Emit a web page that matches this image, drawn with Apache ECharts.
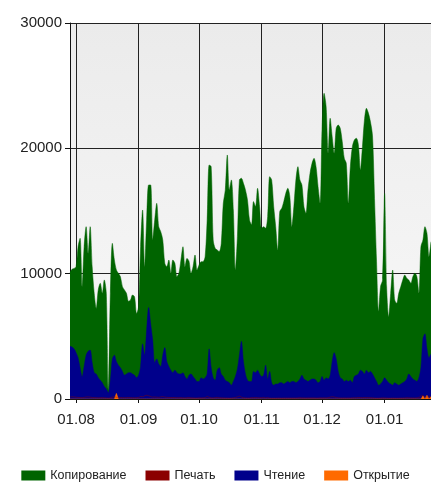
<!DOCTYPE html>
<html>
<head>
<meta charset="utf-8">
<script src="https://cdn.jsdelivr.net/npm/echarts@6/dist/echarts.min.js"></script>
<style>
html, body { margin: 0; padding: 0; background: #fff; }
#container1 { width: 431px; height: 483px; }
</style>
</head>
<body>
<div id="container1"></div>
<script>
// days from 29.07 to 24.01
var days = [];
for (var i = 0; i < 180; i++) {
    var d = new Date(2011, 6, 29 + i);
    var dd = ('0' + d.getDate()).slice(-2);
    var mm = ('0' + (d.getMonth() + 1)).slice(-2);
    days.push(dd + '.' + mm);
}

var seriesNames = ['Копирование', 'Печать', 'Чтение', 'Открытие'];
var yTicks = [0, 10000, 20000, 30000];

var copying = [
    10100, 10350, 10420, 10560, 12150, 12820, 8960, 12150, 13750, 11620,
    13750, 10560, 8430, 7230, 8700, 9230, 8430, 9500, 8430, 720,
    8430, 12420, 11090, 10290, 10030, 9760, 8960, 8700, 8430, 7800,
    7900, 8300, 8160, 6830, 7370, 12150, 15080, 10560, 14280, 17080,
    17080, 12690, 14280, 15610, 13750, 13350, 12690, 10830, 10560, 11090,
    10030, 11090, 10830, 9760, 10030, 11090, 12150, 10560, 11220, 11000,
    10030, 10560, 11490, 10290, 10690, 10960, 10960, 11360, 14280, 18670,
    18540, 12690, 12020, 11890, 11760, 12420, 15610, 16680, 19470, 16680,
    17480, 15080, 10290, 12950, 17480, 17610, 17210, 16680, 15880, 14300,
    13900, 15750, 15350, 16810, 15350, 13620, 13750, 13620, 14550, 17740,
    17480, 15350, 13750, 11890, 14950, 15210, 15750, 16410, 16810, 16140,
    13750, 15350, 17480, 18540, 17480, 17080, 15350, 14810, 16680, 18000,
    18800, 19200, 18540, 16940, 15610, 21730, 24390, 23330, 19600, 22400,
    20930, 19600, 21600, 21860, 21600, 20530, 19200, 18800, 15610, 18540,
    20130, 20670, 20800, 20270, 18270, 20130, 22260, 23190, 22790, 22100,
    21000, 16000, 11000, 7000, 9000, 9500, 16400, 8960, 6570, 8430,
    10290, 7900, 7630, 8430, 8960, 9490, 9890, 9630, 9490, 9230,
    9760, 10030, 9760, 8430, 12150, 12690, 13750, 13220, 11360, 12550
];

var printing = [
    150, 180, 160, 140, 120, 110, 100, 130, 160, 170,
    150, 120, 110, 100, 90, 100, 110, 90, 80, 60,
    100, 150, 170, 140, 130, 120, 110, 100, 110, 120,
    110, 100, 90, 100, 120, 200, 180, 250, 300, 260,
    200, 150, 160, 140, 130, 170, 190, 150, 130, 120,
    110, 120, 110, 100, 100, 110, 90, 80, 100, 110,
    90, 80, 70, 70, 90, 80, 90, 100, 200, 130,
    90, 80, 120, 130, 100, 90, 80, 70, 70, 60,
    70, 90, 120, 170, 230, 150, 100, 80, 70, 70,
    110, 100, 120, 100, 90, 100, 130, 80, 110, 70,
    60, 60, 60, 70, 70, 60, 70, 70, 70, 70,
    70, 70, 70, 80, 100, 80, 80, 70, 80, 80,
    80, 80, 70, 70, 90, 80, 90, 80, 100, 150,
    180, 160, 110, 90, 80, 70, 80, 70, 80, 70,
    90, 100, 100, 120, 110, 100, 120, 110, 110, 100,
    90, 70, 60, 60, 70, 90, 80, 70, 60, 60,
    70, 60, 60, 60, 70, 70, 80, 100, 90, 80,
    80, 70, 90, 120, 240, 260, 200, 160, 180, 170
];

var reading = [
    4200, 4150, 4000, 3700, 3300, 2500, 1800, 2600, 3500, 3800,
    3900, 2900, 2100, 2000, 1700, 1500, 1300, 1000, 800, 500,
    1500, 3200, 3500, 3000, 2700, 2500, 2200, 1900, 2000, 2100,
    2100, 2000, 1900, 1700, 1900, 2600, 4400, 3500, 5500, 7300,
    6000, 4700, 2900, 3200, 2800, 2600, 3500, 4100, 3000, 2600,
    2300, 2100, 2300, 2100, 2000, 2000, 2100, 1800, 1600, 1900,
    2000, 1800, 1600, 1400, 1400, 1700, 1600, 1700, 2000, 4000,
    2500, 1700, 1500, 2300, 2500, 2000, 1800, 1500, 1400, 1300,
    1100, 1400, 1800, 2400, 3500, 4600, 3000, 2000, 1500, 1400,
    1400, 2200, 2100, 2300, 2000, 1800, 1900, 2700, 1600, 2200,
    1300, 1100, 1200, 1200, 1300, 1300, 1200, 1300, 1400, 1300,
    1400, 1400, 1300, 1400, 1600, 1900, 1600, 1500, 1400, 1500,
    1600, 1600, 1500, 1300, 1400, 1800, 1500, 1700, 1600, 1900,
    3000, 3700, 3200, 2200, 1700, 1600, 1400, 1500, 1400, 1500,
    1300, 1800, 1900, 2000, 2300, 2200, 2000, 2300, 2100, 2200,
    2000, 1700, 1400, 1100, 1200, 1400, 1700, 1500, 1300, 1200,
    1100, 1300, 1200, 1100, 1200, 1300, 1400, 1600, 2000, 1800,
    1600, 1500, 1400, 1700, 2500, 4800, 5200, 4000, 3300, 3600
];

var opening = [
    0, 0, 0, 0, 0, 0, 0, 0, 0, 0,
    0, 0, 0, 0, 0, 0, 0, 0, 0, 0,
    0, 0, 0, 450, 0, 0, 0, 0, 0, 0,
    0, 0, 0, 0, 0, 0, 0, 0, 0, 0,
    0, 0, 0, 0, 0, 0, 0, 0, 0, 0,
    0, 0, 0, 0, 0, 0, 0, 0, 0, 0,
    0, 0, 0, 0, 0, 0, 0, 0, 0, 0,
    0, 0, 0, 0, 0, 0, 0, 0, 0, 0,
    0, 0, 0, 0, 0, 0, 0, 0, 0, 0,
    0, 0, 0, 0, 0, 0, 0, 0, 0, 0,
    0, 0, 0, 0, 0, 0, 0, 0, 0, 0,
    0, 0, 0, 0, 0, 0, 0, 0, 0, 0,
    0, 0, 0, 0, 0, 0, 0, 0, 0, 0,
    0, 0, 0, 0, 0, 0, 0, 0, 0, 0,
    0, 0, 0, 0, 0, 0, 0, 0, 0, 0,
    0, 0, 0, 0, 0, 0, 0, 0, 0, 0,
    0, 0, 0, 0, 0, 0, 0, 0, 0, 0,
    0, 0, 0, 0, 0, 250, 0, 300, 0, 200
];

var monthStart = function (idx, value) {
    return String(value).slice(0, 2) === '01';
};

var font = '"Liberation Sans", Arial, sans-serif';

var dom = document.getElementById("container1");
var myChart = echarts.init(dom);

var areaSeries = function (name, data, color, smooth) {
    return {
        name: name,
        type: 'line',
        data: data,
        smooth: smooth,
        showSymbol: false,
        symbol: 'none',
        lineStyle: { width: 0.5, color: color },
        areaStyle: { color: color, opacity: 1 },
        itemStyle: { color: color },
        animation: false
    };
};

var option = {
    animation: false,
    textStyle: { fontFamily: font },
    color: ['#006400', '#8b0000', '#00008b', '#ff6a00'],
    grid: {
        left: 70,
        right: 0,
        top: 23,
        bottom: 84,
        show: true,
        borderWidth: 0,
        backgroundColor: {
            type: 'linear', x: 0, y: 0, x2: 0, y2: 1,
            colorStops: [
                { offset: 0, color: '#ebebeb' },
                { offset: 1, color: '#f9f9f9' }
            ]
        }
    },
    legend: {
        data: seriesNames,
        top: 464,
        left: 'center',
        icon: 'rect',
        itemWidth: 24,
        itemHeight: 10,
        itemGap: 19,
        textStyle: { fontSize: 12.5, color: '#222', fontFamily: font }
    },
    xAxis: {
        type: 'category',
        data: days,
        boundaryGap: false,
        axisLine: { show: true, lineStyle: { color: '#111', width: 1 } },
        axisTick: { show: true, interval: monthStart, length: 4, lineStyle: { color: '#111' } },
        axisLabel: {
            interval: monthStart,
            fontSize: 15,
            color: '#222',
            margin: 13,
            formatter: function (v) { return v.slice(0, 2) === '01' ? v : ''; }
        },
        splitLine: { show: true, interval: monthStart, lineStyle: { color: '#222', width: 1 } }
    },
    yAxis: {
        type: 'value',
        min: yTicks[0],
        max: yTicks[yTicks.length - 1],
        interval: 10000,
        axisLine: { show: true, lineStyle: { color: '#111', width: 1 } },
        axisTick: { show: true, length: 5, lineStyle: { color: '#111' } },
        axisLabel: {
            fontSize: 15,
            color: '#222',
            margin: 8,
            formatter: function (v) { return String(v); }
        },
        splitLine: { show: true, lineStyle: { color: '#222', width: 1 } }
    },
    series: [
        areaSeries(seriesNames[0], copying, '#006400', 0.3),
        areaSeries(seriesNames[1], printing, '#8b0000', 0.3),
        areaSeries(seriesNames[2], reading, '#00008b', 0.3),
        areaSeries(seriesNames[3], opening, '#ff6a00', false)
    ]
};

if (option && typeof option === "object") {
    myChart.setOption(option, true);
}
</script>
</body>
</html>
